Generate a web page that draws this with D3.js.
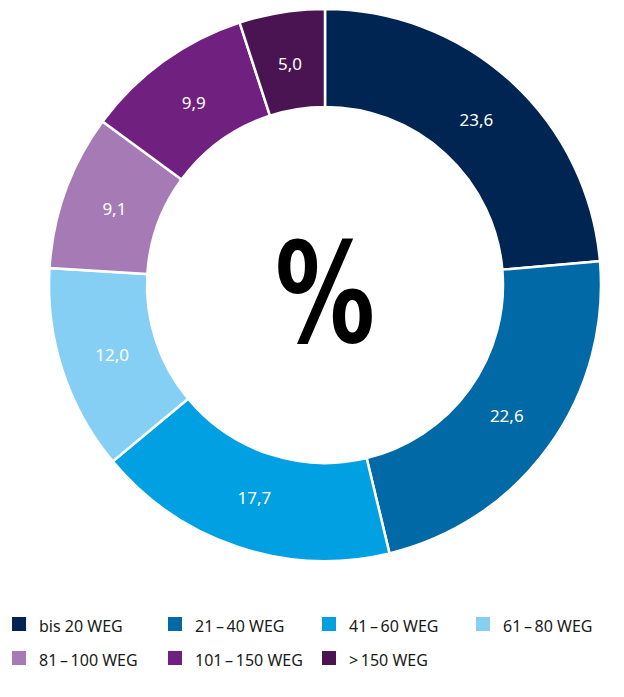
<!DOCTYPE html>
<html>
<head>
<meta charset="utf-8">
<script src="https://cdn.jsdelivr.net/npm/d3@7"></script>
<style>
  body { margin: 0; background: #fff; font-family: "Noto Sans", "Open Sans", sans-serif; }
</style>
</head>
<body>
<script>
const categories = ["bis 20 WEG", "21\u2009\u2013\u200940 WEG", "41\u2009\u2013\u200960 WEG", "61\u2009\u2013\u200980 WEG",
                    "81\u2009\u2013\u2009100 WEG", "101\u2009\u2013\u2009150 WEG", ">\u2009150 WEG"];
const values = [23.6, 22.6, 17.7, 12.0, 9.1, 9.9, 5.0];
const colors = ["#002552", "#0069a6", "#00a0e3", "#86cff4", "#a57ab5", "#70207f", "#4a1453"];

const width = 624, height = 697;
const cx = 325, cy = 285, outerR = 276, innerR = 178;

const svg = d3.select("body").append("svg")
    .attr("width", width)
    .attr("height", height);

const pie = d3.pie().sort(null).value(d => d.value);
const arcs = pie(values.map((v, i) => ({ value: v, name: categories[i], color: colors[i] })));

const arc = d3.arc().innerRadius(innerR).outerRadius(outerR);
const labelArc = d3.arc().innerRadius(224).outerRadius(224);

const g = svg.append("g").attr("transform", `translate(${cx},${cy})`);

g.selectAll("path")
  .data(arcs)
  .enter().append("path")
    .attr("d", arc)
    .attr("fill", d => d.data.color)
    .attr("stroke", "#fff")
    .attr("stroke-width", 2.5);

const fmt = v => v.toFixed(1).replace(".", ",");

g.selectAll("text.val")
  .data(arcs)
  .enter().append("text")
    .attr("class", "val")
    .attr("transform", d => `translate(${labelArc.centroid(d)})`)
    .attr("text-anchor", "middle")
    .attr("dy", "0.35em")
    .attr("fill", "#fff")
    .style("font-size", "17px")
    .text(d => fmt(d.data.value));

// big percent sign, narrower and taller than the stock glyph
g.append("text")
    .attr("text-anchor", "middle")
    .attr("transform", "translate(0,57) scale(0.78,1.08)")
    .style("font-family", "'DejaVu Sans', sans-serif")
    .style("font-weight", "bold")
    .style("font-size", "128px")
    .attr("fill", "#000")
    .text("%");

// legend
const legend = svg.append("g");
const colX = [12, 168, 322, 476];
const items = legend.selectAll("g")
  .data(categories)
  .enter().append("g")
    .attr("transform", (d, i) => `translate(${colX[i % 4]},${617 + Math.floor(i / 4) * 34})`);

items.append("rect")
    .attr("width", 14)
    .attr("height", 14)
    .attr("fill", (d, i) => colors[i]);

items.append("text")
    .attr("x", 27)
    .attr("y", 15)
    .attr("fill", "#1a1a1a")
    .style("font-size", "16px")
    .text(d => d);
</script>
</body>
</html>
